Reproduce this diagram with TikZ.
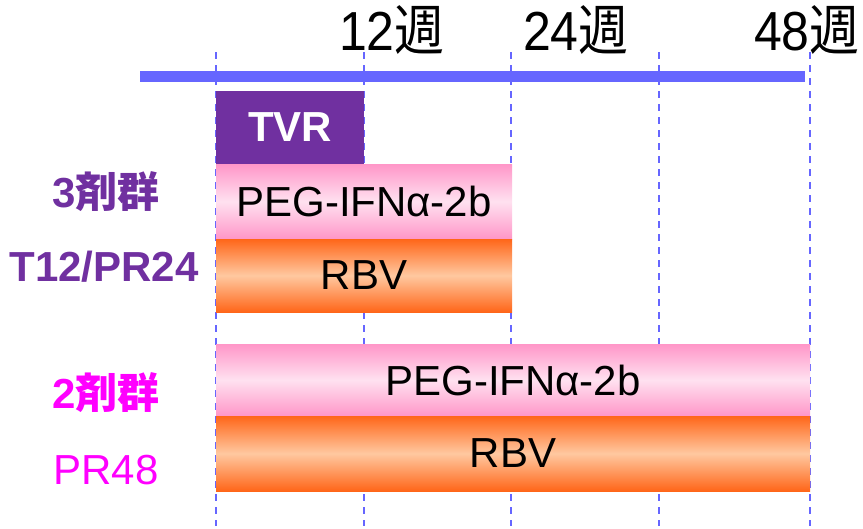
\documentclass[tikz,border=0pt]{standalone}
\usepackage{fontspec}
\usepackage{graphicx}
\setmainfont{Liberation Sans}
\newfontfamily\cjk{Noto Sans CJK JP}
\definecolor{axisblue}{RGB}{102,102,255}
\definecolor{tvrpurple}{RGB}{112,48,160}
\definecolor{pinkedge}{RGB}{255,150,200}
\definecolor{pinkmid}{RGB}{255,225,240}
\definecolor{orangeedge}{RGB}{255,102,25}
\definecolor{orangemid}{RGB}{255,200,160}
\definecolor{magentatext}{RGB}{255,0,255}
\begin{document}
\begin{tikzpicture}[x=1pt,y=-1pt,
  bar/.style={anchor=north west,inner sep=0pt,outer sep=0pt,draw=none},
  pegbar/.style={bar,top color=pinkedge,bottom color=pinkedge,middle color=pinkmid},
  rbvbar/.style={bar,top color=orangeedge,bottom color=orangeedge,middle color=orangemid},
  bartext/.style={font=\fontsize{42}{48}\selectfont,text=black},
  weeklabel/.style={font=\fontsize{50}{56}\selectfont,inner sep=0pt,anchor=base},
  grid/.style={draw=axisblue,line width=1.3pt,dash pattern=on 7pt off 6pt},
  grouplabel/.style={font=\fontsize{42}{48}\selectfont,inner sep=0pt}
]
\useasboundingbox (0,0) rectangle (863,528);
% grid dashed lines
\foreach \x/\n in {216/g0,364/g12,511/g24,659/g36,810/g48}{
  \coordinate (\n top) at (\x,52);
  \coordinate (\n bot) at (\x,526);
  \draw[grid] (\n top) -- (\n bot);
}
% axis bar
\coordinate (axL) at (140,76);
\coordinate (axR) at (805,76);
\draw[axisblue,line width=11pt] (axL) -- (axR);
% week labels
\node[weeklabel] (w12) at (392,50) {\scalebox{1}[1.1]{12{\cjk 週}}};
\node[weeklabel] (w24) at (576,50) {\scalebox{1}[1.1]{24{\cjk 週}}};
\node[weeklabel] (w48) at (807,50) {\scalebox{1}[1.1]{48{\cjk 週}}};
% group 1
\node[bar,fill=tvrpurple,minimum width=148pt,minimum height=73pt] (tvr) at (216,91) {};
\node[text=white,font=\bfseries\fontsize{42}{48}\selectfont] (tvrt) at (tvr.center) {TVR};
\node[pegbar,minimum width=296pt,minimum height=75pt] (peg1) at (216,164) {};
\node[bartext] (peg1t) at (peg1.center) {PEG-IFNα-2b};
\node[rbvbar,minimum width=296pt,minimum height=73pt] (rbv1) at (216,239) {};
\node[bartext] (rbv1t) at (rbv1.center) {RBV};
% group 2
\node[pegbar,minimum width=594pt,minimum height=72pt] (peg2) at (216,344) {};
\node[bartext] (peg2t) at (peg2.center) {PEG-IFNα-2b};
\node[rbvbar,minimum width=594pt,minimum height=75pt] (rbv2) at (216,416) {};
\node[bartext] (rbv2t) at (rbv2.center) {RBV};
% left labels
\node[grouplabel,text=tvrpurple,font=\bfseries\fontsize{42}{48}\selectfont] (l1) at (106,192) {3{\cjk\bfseries 剤群}};
\node[grouplabel,text=tvrpurple,font=\bfseries\fontsize{42}{48}\selectfont] (l2) at (104,267) {T12/PR24};
\node[grouplabel,text=magentatext,font=\bfseries\fontsize{42}{48}\selectfont] (l3) at (106,393) {2{\cjk\bfseries 剤群}};
\node[grouplabel,text=magentatext] (l4) at (106,470) {PR48};
\end{tikzpicture}
\end{document}
